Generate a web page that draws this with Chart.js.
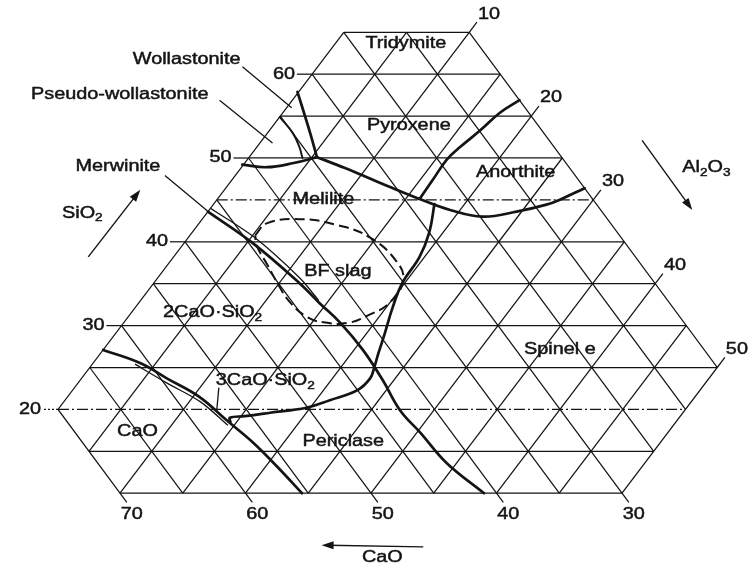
<!DOCTYPE html>
<html>
<head>
<meta charset="utf-8">
<script src="https://cdn.jsdelivr.net/npm/chart.js@4.4.1/dist/chart.umd.min.js"></script>
<style>
  html, body { margin: 0; padding: 0; background: #fff; }
  #diagram { display: block; }
</style>
</head>
<body>
<canvas id="diagram" width="751" height="569"></canvas>
<script>
// CaO-SiO2-Al2O3 section at 10 % MgO. Every point is [CaO, SiO2] in wt%,
// Al2O3 is what is left (90 - CaO - SiO2).

// grid / axes
const outline = [[25, 65], [15, 65], [15, 25], [30, 10], [70, 10], [70, 20], [25, 65]];
const sio2Grid = [15, 20, 25, 30, 35, 40, 45, 50, 55, 60];
const caoGrid = [20, 25, 30, 35, 40, 45, 50, 55, 60, 65];
const al2o3Grid = [5, 10, 15, 20, 25, 30, 35, 40, 45];
const dashDotSio2 = [45, 20];
const sio2Ticks = [60, 50, 40, 30, 20];
const caoTicks = [70, 60, 50, 40, 30];
const al2o3Ticks = [10, 20, 30, 40, 50];

// phase boundaries
const wollastoniteLine = [[32.2, 57.9], [33.0, 55.1], [33.7, 52.7], [34.5, 50.1]];
const pseudoWollLine = [[35.1, 54.9], [35.0, 53.0], [35.3, 51.3], [35.7, 50.0]];
const pseudoWollBase = [[40.9, 49.2], [39.1, 48.9], [36.7, 49.4], [34.5, 50.1]];
const meliliteTop = [[34.5, 50.1], [32.9, 48.8], [31.7, 47.7], [30.4, 46.5], [28.9, 45.2],
  [27.0, 43.8], [24.8, 43.0], [21.8, 43.6], [19.1, 44.4], [17.7, 45.0], [15.0, 46.4]];
const pyroxeneAnorthite = [[15.0, 56.9], [17.3, 55.4], [19.9, 53.3], [22.5, 51.3],
  [24.3, 49.8], [26.6, 47.4], [28.7, 45.2]];
const meliliteSpinel = [[27.9, 44.5], [30.0, 41.1], [32.2, 38.2], [35.1, 35.1], [37.3, 32.2],
  [39.6, 28.9], [41.3, 26.5], [42.4, 24.9], [43.3, 23.7], [45.0, 22.3], [47.8, 21.1],
  [50.1, 20.2], [53.3, 19.6], [55.5, 19.2], [56.8, 19.0], [57.0, 18.5]];
const limeLine = [[62.9, 27.1], [60.7, 25.5], [59.5, 23.7], [58.0, 21.5], [57.2, 18.7],
  [56.4, 16.0], [55.9, 13.1], [55.5, 10.0]];
const limeLineInner = [[61.2, 25.4], [59.8, 23.2], [58.2, 20.9], [57.4, 18.1]];
const merwiniteLine = [[46.4, 43.6], [44.7, 39.9], [43.3, 35.0], [42.9, 32.7], [42.4, 30.3],
  [42.2, 27.1], [42.4, 23.5], [42.8, 19.9], [42.5, 17.2], [42.2, 13.6], [41.0, 10.0]];
const merwiniteInner = [[46.0, 44.0], [44.2, 40.5], [43.0, 35.7], [42.8, 33.0]];
const bfSlag = [[44.0, 40.8], [42.4, 42.2], [39.5, 42.7], [36.9, 42.0], [35.0, 40.5],
  [34.3, 37.6], [34.9, 35.4], [37.2, 32.8], [39.6, 31.3], [41.9, 30.3], [43.7, 30.4],
  [44.7, 31.0], [45.2, 32.8], [45.1, 34.8], [44.8, 37.2], [44.5, 39.6], [44.0, 40.8]];
const leaders = [
  [[35.1, 60.9], [33.6, 56.0]],
  [[38.9, 56.9], [37.2, 51.8]],
  [[47.7, 47.9], [46.4, 43.7]],
  [[55.9, 22.6], [57.4, 19.9]],
];

// field names and where they sit
const fieldNames = ['Tridymite', 'Wollastonite', 'Pseudo-wollastonite', 'Pyroxene', 'Anorthite',
  'Melilite', 'Merwinite', 'BF slag', '2CaO·SiO_2', '3CaO·SiO_2', 'CaO', 'Periclase', 'Spinel e'];
const fieldAt = [[20.7, 63.7], [39.1, 61.8], [46.5, 57.6], [25.3, 53.9], [19.6, 48.2],
  [36.5, 45.0], [50.9, 49.0], [39.6, 36.4], [52.0, 31.5], [51.8, 23.4], [65.0, 17.3],
  [49.2, 16.1], [26.5, 27.1]];

// component arrows and their names
const arrowNames = ['SiO_2', 'Al_2O_3', 'CaO'];
const arrowFrom = [[58.6, 38.2], [7.6, 52.1], [49.0, 3.6]];
const arrowTo = [[50.5, 46.2], [7.7, 43.8], [57.0, 3.8]];
const arrowNameAt = [[56.5, 43.4], [4.1, 48.8], [52.9, 2.3]];

const SKEW = 0.494;
const INK = '#141414';
const SX = 1.24;
const FONT = '"Liberation Sans", Arial, Helvetica, sans-serif';

function pt(c, s) {
  return { x: 100 - c - SKEW * s, y: s };
}

function line(points, opts) {
  return Object.assign({
    data: points.map(p => pt(p[0], p[1])),
    showLine: true,
    pointRadius: 0,
    borderColor: INK,
    borderWidth: 1.25,
    fill: false,
    tension: 0,
    clip: false,
  }, opts || {});
}

const datasets = [];
sio2Grid.forEach((s) => {
  const hi = Math.min(70, 90 - s);
  const lo = Math.max(15, 40 - s);
  const dashed = dashDotSio2.includes(s);
  datasets.push(line([[hi, s], [lo, s]], dashed ? { borderDash: [11, 3, 2, 3] } : {}));
});
caoGrid.forEach((c) => {
  datasets.push(line([[c, Math.max(10, 40 - c)], [c, Math.min(65, 90 - c)]]));
});
al2o3Grid.forEach((a) => {
  const t = 90 - a;
  const s0 = Math.max(10, t - 70);
  const s1 = Math.min(65, t - 15);
  datasets.push(line([[t - s0, s0], [t - s1, s1]]));
});
datasets.push(line(outline));
sio2Ticks.forEach(s => datasets.push(line([[90 - s, s], [91.2 - s, s]],
  dashDotSio2.includes(s) ? { borderDash: [2, 2] } : {})));
caoTicks.forEach(c => datasets.push(line([[c, 10], [c, 8.9]])));
al2o3Ticks.forEach(a => datasets.push(line([[15, 75 - a], [13.8, 76.2 - a]])));

leaders.forEach(l => datasets.push(line(l, { borderWidth: 1.3 })));
datasets.push(line(bfSlag, { borderWidth: 2, borderDash: [10, 5], tension: 0.45 }));
datasets.push(line(merwiniteInner, { borderWidth: 1.3, tension: 0.3 }));
datasets.push(line(limeLineInner, { borderWidth: 1.3, tension: 0.3 }));
const thick = { borderWidth: 2.7, tension: 0.4, borderCapStyle: 'round', borderJoinStyle: 'round' };
[wollastoniteLine, pseudoWollLine, pseudoWollBase, meliliteTop, pyroxeneAnorthite,
  meliliteSpinel, limeLine, merwiniteLine].forEach(c => datasets.push(line(c, thick)));
datasets[datasets.length - 7].borderWidth = 1.9; // pseudo-wollastonite divide is lighter

function runs(text) {
  const out = [];
  let buf = '';
  for (let i = 0; i < text.length; i++) {
    if (text[i] === '_') {
      if (buf) out.push([buf, false]);
      buf = '';
      out.push([text[i + 1], true]);
      i++;
    } else buf += text[i];
  }
  if (buf) out.push([buf, false]);
  return out;
}

function drawText(ctx, text, x, y, size, align) {
  const parts = runs(text);
  const sub = Math.round(size * 0.68);
  let w = 0;
  parts.forEach(([t, isSub]) => {
    ctx.font = (isSub ? sub : size) + 'px ' + FONT;
    w += ctx.measureText(t).width;
  });
  ctx.save();
  ctx.translate(x, y);
  ctx.scale(SX, 1);
  let cx = align === 'center' ? -w / 2 : align === 'right' ? -w : 0;
  ctx.textBaseline = 'middle';
  ctx.textAlign = 'left';
  ctx.fillStyle = INK;
  ctx.strokeStyle = INK;
  ctx.lineWidth = 0.45;
  parts.forEach(([t, isSub]) => {
    ctx.font = (isSub ? sub : size) + 'px ' + FONT;
    const ty = isSub ? size * 0.3 : 0;
    ctx.fillText(t, cx, ty);
    ctx.strokeText(t, cx, ty);
    cx += ctx.measureText(t).width;
  });
  ctx.restore();
}

const annotate = {
  id: 'annotate',
  afterDatasetsDraw(chart) {
    const { ctx } = chart;
    const xs = chart.scales.x;
    const ys = chart.scales.y;
    const px = (c, s) => {
      const p = pt(c, s);
      return [xs.getPixelForValue(p.x), ys.getPixelForValue(p.y)];
    };
    const size = 16;

    sio2Ticks.forEach((s) => {
      const [x, y] = px(91.2 - s, s);
      drawText(ctx, String(s), x - 2, y, size, 'right');
    });
    caoTicks.forEach((c) => {
      const [x, y] = px(c, 8.9);
      drawText(ctx, String(c), x + 5, y + 12, size, 'center');
    });
    al2o3Ticks.forEach((a) => {
      const [x, y] = px(13.8, 76.2 - a);
      drawText(ctx, String(a), x + 1, y - 8, size, 'left');
    });

    fieldNames.forEach((name, i) => {
      const [x, y] = px(fieldAt[i][0], fieldAt[i][1]);
      drawText(ctx, name, x, y, size, 'center');
    });

    arrowNames.forEach((name, i) => {
      const [x0, y0] = px(arrowFrom[i][0], arrowFrom[i][1]);
      const [x1, y1] = px(arrowTo[i][0], arrowTo[i][1]);
      const ang = Math.atan2(y1 - y0, x1 - x0);
      ctx.save();
      ctx.strokeStyle = INK;
      ctx.fillStyle = INK;
      ctx.lineWidth = 1.4;
      ctx.beginPath();
      ctx.moveTo(x0, y0);
      ctx.lineTo(x1 - 6 * Math.cos(ang), y1 - 6 * Math.sin(ang));
      ctx.stroke();
      ctx.translate(x1, y1);
      ctx.rotate(ang);
      ctx.beginPath();
      ctx.moveTo(0, 0);
      ctx.lineTo(-12, -4);
      ctx.lineTo(-12, 4);
      ctx.closePath();
      ctx.fill();
      ctx.restore();
      const [tx, ty] = px(arrowNameAt[i][0], arrowNameAt[i][1]);
      drawText(ctx, name, tx, ty, size, 'center');
    });
  },
};

new Chart(document.getElementById('diagram').getContext('2d'), {
  type: 'scatter',
  data: { datasets },
  options: {
    responsive: false,
    animation: false,
    devicePixelRatio: 1,
    layout: { padding: 0 },
    plugins: { legend: { display: false }, tooltip: { enabled: false } },
    scales: {
      x: { type: 'linear', display: false, min: 15.498, max: 75.339 },
      y: { type: 'linear', display: false, min: 0.955, max: 68.854 },
    },
  },
  plugins: [annotate],
});
</script>
</body>
</html>
